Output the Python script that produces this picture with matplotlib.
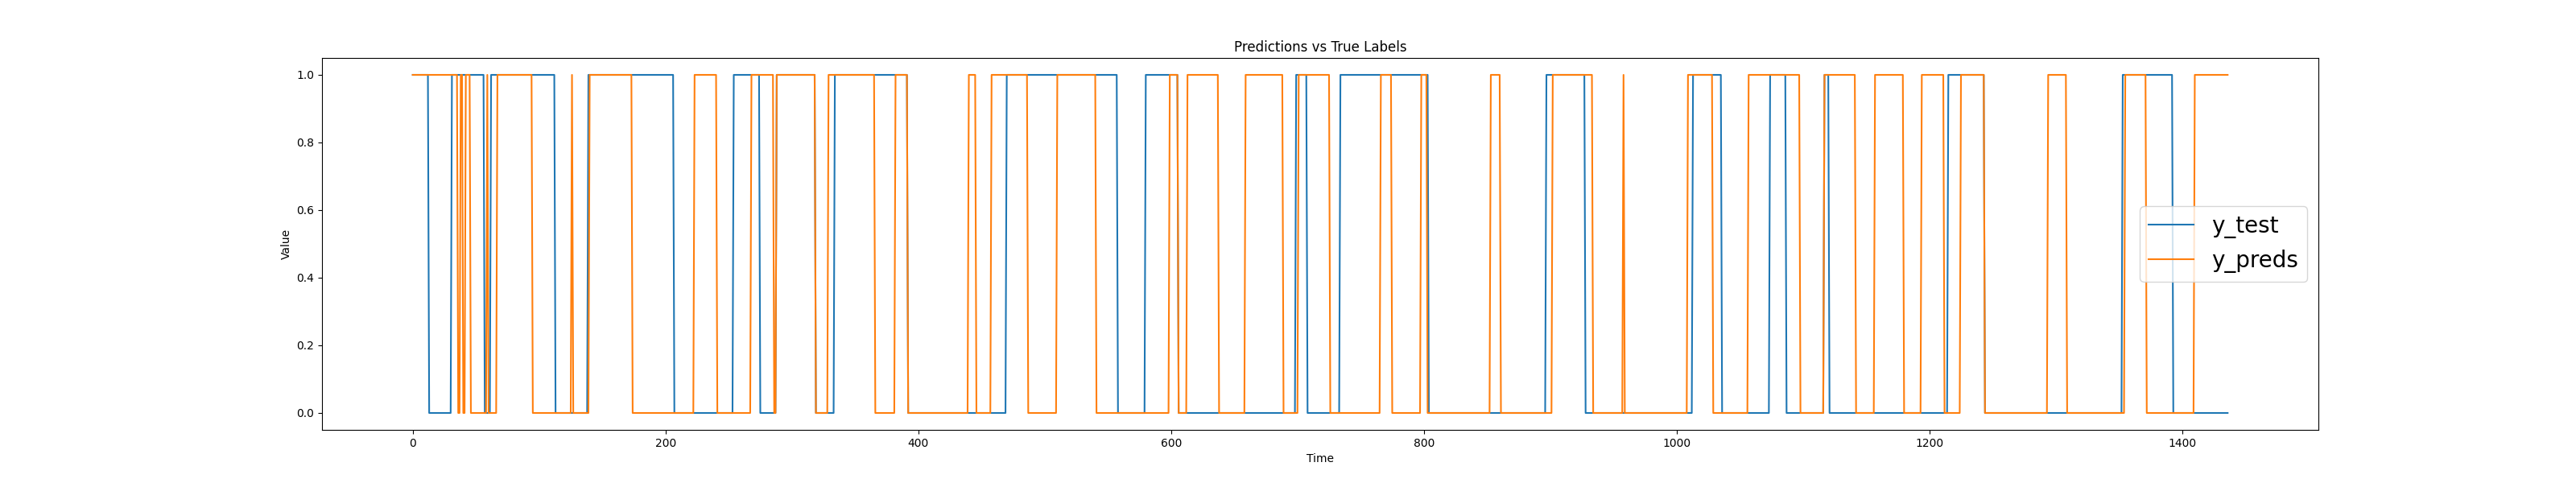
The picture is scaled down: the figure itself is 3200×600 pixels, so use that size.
import numpy as np
import matplotlib
matplotlib.use('Agg')
import matplotlib.pyplot as plt

# indices where each binary series flips state
n_points = 1437
test_start = 1
test_flips = [13, 31, 57, 62, 113, 139, 207, 254, 275, 288, 319, 334, 392, 470,
              558, 580, 606, 699, 708, 734, 804, 897, 928, 1013, 1036, 1074,
              1087, 1117, 1121, 1215, 1244, 1353, 1393]
preds_start = 1
preds_flips = [36, 38, 40, 42, 46, 59, 60, 67, 95, 126, 127, 140, 174, 223, 241,
               268, 286, 288, 319, 329, 366, 382, 392, 440, 446, 458, 487, 510,
               541, 599, 606, 613, 638, 659, 689, 701, 726, 766, 775, 798, 803,
               853, 861, 902, 934, 958, 959, 1009, 1029, 1057, 1098, 1117, 1142,
               1157, 1180, 1194, 1212, 1225, 1244, 1294, 1309, 1355, 1372, 1410]


def build_series(start, flips):
    vals = np.full(n_points, start)
    for f in flips:
        vals[f:] = 1 - vals[f:]
    return vals


y_test = build_series(test_start, test_flips)
y_preds = build_series(preds_start, preds_flips)

fig, ax = plt.subplots(figsize=(32, 6), dpi=100)
ax.plot(y_test, label='y_test')
ax.plot(y_preds, label='y_preds')
ax.set_title('Predictions vs True Labels')
ax.set_xlabel('Time')
ax.set_ylabel('Value')
ax.legend(loc='center right', fontsize=20)

plt.savefig('out.png')
